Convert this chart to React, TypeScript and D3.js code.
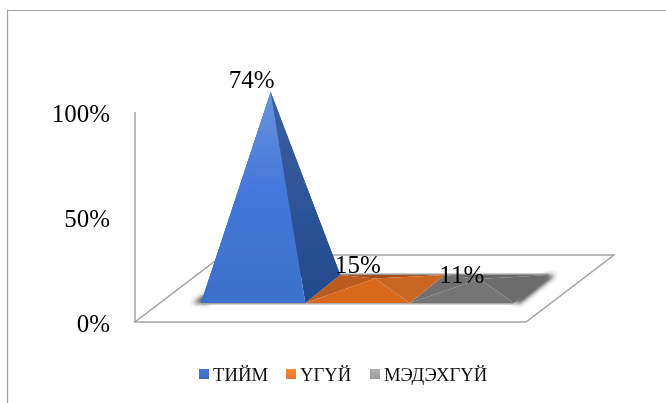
import React from "react";
import * as d3 from "d3";

const categories = ["ТИЙМ", "ҮГҮЙ", "МЭДЭХГҮЙ"];
const values = [0.74, 0.15, 0.11];
const valueLabels = ["74%", "15%", "11%"];
const axisTicks = [0, 0.5, 1];
const frontColors = ["#3f75d3", "#d8671f", "#747474"];
const leftColors = ["#2a5196", "#bb5c1e", "#6f6f6f"];
const backColors = ["#2a5196", "#a5501c", "#686868"];
const rightColors = ["#2a5196", "#cb6622", "#6c6c6c"];
const legendColors = ["#3f6fc8", "#f07d30", "#a3a3a3"];
const labelOffsets = [[-42, -4], [-40, -5.5], [-40, 4]];
const legendX = [199, 286, 370];

const W = 666;
const H = 403;
const axisY = d3.scaleLinear().domain([0, 1]).range([322, 112]);
const band = d3.scaleBand<string>().domain(categories).range([201, 514]);
// The original's 3D projection is non-linear in value, so the apex scale is piecewise.
const apexY = d3.scaleLinear().domain([0, 0.11, 0.15, 0.74]).range([289, 279, 278.5, 92]);
const frontY = 303;
const backY = 275;
const depthX = 35;
const floor = { x0: 135, x1: 526, y0: 322, y1: 255, dx: 88 };
const line = d3.line();

export default function App() {
  const first = band(categories[0])!;
  const lastEnd = band(categories[2])! + band.bandwidth();
  return (
    <svg width={W} height={H} viewBox={`0 0 ${W} ${H}`} style={{ position: "absolute", left: 0, top: 0, background: "#fff" }} fontFamily="'Liberation Serif'">
      <defs>
        <filter id="soft" x="-5%" y="-5%" width="110%" height="110%"><feGaussianBlur stdDeviation="0.45" /></filter>
        <filter id="shadow" x="-50%" y="-50%" width="200%" height="200%"><feGaussianBlur stdDeviation="2.5" /></filter>
        <linearGradient id="blueFront" x1="0" y1="0" x2="0" y2="1">
          <stop offset="0" stopColor="#6a93de" />
          <stop offset="0.45" stopColor="#4478da" />
          <stop offset="1" stopColor="#3b6fcb" />
        </linearGradient>
        <linearGradient id="blueSide" x1="0" y1="0" x2="0" y2="1">
          <stop offset="0" stopColor="#3a5f9f" />
          <stop offset="1" stopColor="#224a8f" />
        </linearGradient>
        {legendColors.map((c, i) => (
          <linearGradient key={i} id={`leg${i}`} x1="0" y1="0" x2="0" y2="1">
            <stop offset="0" stopColor={d3.color(c)!.brighter(0.2).formatHex()} />
            <stop offset="1" stopColor={d3.color(c)!.darker(0.15).formatHex()} />
          </linearGradient>
        ))}
      </defs>

      <g filter="url(#soft)">
        <path d="M7.5,403V10.5H666" fill="none" stroke="#a0a0a0" strokeWidth={1.2} />

        <path
          d={line([[floor.x0, floor.y0], [floor.x1, floor.y0], [floor.x1 + floor.dx, floor.y1], [floor.x0 + floor.dx, floor.y1]])! + "Z"}
          fill="#fff" stroke="#a3a3a3" strokeWidth={1.5}
        />
        <line x1={floor.x0} x2={floor.x0} y1={axisY(0)} y2={axisY(1)} stroke="#a3a3a3" strokeWidth={1.5} />

        <path d={line([[first - 9, frontY], [first + 8, frontY - 10], [first + 8, frontY]])! + "Z"} fill="#333" filter="url(#shadow)" />
        <path d={line([[lastEnd - 2, frontY], [lastEnd + depthX - 2, backY], [lastEnd + depthX + 6, backY], [lastEnd + 6, frontY]])! + "Z"} fill="#222" filter="url(#shadow)" />
        <rect x={first} y={frontY} width={lastEnd - first} height={1.5} fill="#a8a8a8" />
        <rect x={first + depthX} y={backY - 1.5} width={lastEnd - first} height={1.5} fill="#9a9a9a" />

        {[2, 1, 0].map((i) => {
          const c = categories[i];
          const xl = band(c)!;
          const xr = xl + band.bandwidth();
          const fl: [number, number] = [xl, frontY];
          const fr: [number, number] = [xr, frontY];
          const bl: [number, number] = [xl + depthX, backY];
          const br: [number, number] = [xr + depthX, backY];
          const apex: [number, number] = [(xl + xr + depthX) / 2, apexY(values[i])];
          const isBlue = i === 0;
          return (
            <g key={c}>
              <path d={line([bl, br, apex])! + "Z"} fill={backColors[i]} />
              <path d={line([fl, bl, apex])! + "Z"} fill={leftColors[i]} />
              <path d={line([fr, br, apex])! + "Z"} fill={isBlue ? "url(#blueSide)" : rightColors[i]} />
              <path d={line([fl, fr, apex])! + "Z"} fill={isBlue ? "url(#blueFront)" : frontColors[i]} />
            </g>
          );
        })}

        <g fontSize={25} fill="#000">
          {categories.map((c, i) => {
            const cx = band(c)! + (band.bandwidth() + depthX) / 2;
            return (
              <text key={c} x={cx + labelOffsets[i][0]} y={apexY(values[i]) + labelOffsets[i][1]}>
                {valueLabels[i]}
              </text>
            );
          })}
          {axisTicks.map((t) => (
            <text key={t} x={110} y={axisY(t) + 9.5} textAnchor="end">{d3.format(".0%")(t)}</text>
          ))}
        </g>

        <g fontSize={18.7} fill="#111">
          {categories.map((c, i) => (
            <g key={c}>
              <rect x={legendX[i]} y={369} width={10} height={10} fill={`url(#leg${i})`} />
              <text x={legendX[i] + 14} y={381}>{c}</text>
            </g>
          ))}
        </g>
      </g>
    </svg>
  );
}
